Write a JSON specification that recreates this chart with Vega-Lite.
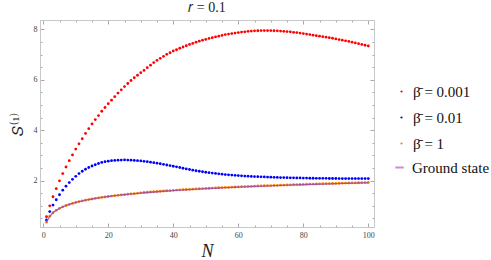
{
  "$schema": "https://vega.github.io/schema/vega-lite/v6.json",
  "width": 334,
  "height": 207,
  "autosize": "none",
  "padding": {"left": 40, "top": 20, "right": 117, "bottom": 33},
  "background": "white",
  "title": {"text": "𝑟 = 0.1", "font": "Liberation Serif", "fontSize": 14, "fontWeight": "normal", "color": "#222", "offset": 5},
  "config": {"view": {"stroke": "#c8c8c8"}},
  "data": {"values": [
    {"N":1,"a":0.57,"b":0.44,"c":0.35,"g":0.35},
    {"N":2,"a":1.00,"b":0.77,"c":0.586,"g":0.586},
    {"N":3,"a":1.36,"b":1.03,"c":0.724,"g":0.724},
    {"N":4,"a":1.68,"b":1.24,"c":0.821,"g":0.821},
    {"N":5,"a":1.99,"b":1.44,"c":0.897,"g":0.897},
    {"N":6,"a":2.28,"b":1.62,"c":0.959,"g":0.959},
    {"N":7,"a":2.54,"b":1.78,"c":1.012,"g":1.012},
    {"N":8,"a":2.79,"b":1.92,"c":1.057,"g":1.057},
    {"N":9,"a":3.02,"b":2.05,"c":1.097,"g":1.097},
    {"N":10,"a":3.25,"b":2.17,"c":1.133,"g":1.133},
    {"N":11,"a":3.46,"b":2.28,"c":1.165,"g":1.165},
    {"N":12,"a":3.66,"b":2.37,"c":1.195,"g":1.195},
    {"N":13,"a":3.87,"b":2.45,"c":1.222,"g":1.222},
    {"N":14,"a":4.06,"b":2.52,"c":1.247,"g":1.247},
    {"N":15,"a":4.25,"b":2.58,"c":1.271,"g":1.271},
    {"N":16,"a":4.42,"b":2.63,"c":1.293,"g":1.293},
    {"N":17,"a":4.58,"b":2.68,"c":1.313,"g":1.313},
    {"N":18,"a":4.75,"b":2.72,"c":1.333,"g":1.333},
    {"N":19,"a":4.90,"b":2.75,"c":1.351,"g":1.351},
    {"N":20,"a":5.05,"b":2.77,"c":1.369,"g":1.369},
    {"N":21,"a":5.19,"b":2.79,"c":1.385,"g":1.385},
    {"N":22,"a":5.33,"b":2.80,"c":1.401,"g":1.401},
    {"N":23,"a":5.47,"b":2.81,"c":1.416,"g":1.416},
    {"N":24,"a":5.60,"b":2.815,"c":1.431,"g":1.431},
    {"N":25,"a":5.73,"b":2.82,"c":1.444,"g":1.444},
    {"N":26,"a":5.85,"b":2.815,"c":1.458,"g":1.458},
    {"N":27,"a":5.97,"b":2.81,"c":1.471,"g":1.471},
    {"N":28,"a":6.08,"b":2.80,"c":1.483,"g":1.483},
    {"N":29,"a":6.18,"b":2.79,"c":1.495,"g":1.495},
    {"N":30,"a":6.28,"b":2.78,"c":1.516,"g":1.506},
    {"N":31,"a":6.37,"b":2.765,"c":1.528,"g":1.518},
    {"N":32,"a":6.48,"b":2.75,"c":1.538,"g":1.528},
    {"N":33,"a":6.58,"b":2.73,"c":1.549,"g":1.539},
    {"N":34,"a":6.68,"b":2.71,"c":1.559,"g":1.549},
    {"N":35,"a":6.77,"b":2.69,"c":1.569,"g":1.559},
    {"N":36,"a":6.85,"b":2.67,"c":1.578,"g":1.568},
    {"N":37,"a":6.93,"b":2.645,"c":1.588,"g":1.578},
    {"N":38,"a":7.01,"b":2.62,"c":1.597,"g":1.587},
    {"N":39,"a":7.07,"b":2.595,"c":1.606,"g":1.596},
    {"N":40,"a":7.14,"b":2.57,"c":1.614,"g":1.604},
    {"N":41,"a":7.19,"b":2.545,"c":1.623,"g":1.613},
    {"N":42,"a":7.25,"b":2.52,"c":1.631,"g":1.621},
    {"N":43,"a":7.30,"b":2.49,"c":1.639,"g":1.629},
    {"N":44,"a":7.35,"b":2.465,"c":1.647,"g":1.637},
    {"N":45,"a":7.40,"b":2.44,"c":1.654,"g":1.644},
    {"N":46,"a":7.44,"b":2.415,"c":1.662,"g":1.652},
    {"N":47,"a":7.49,"b":2.39,"c":1.669,"g":1.659},
    {"N":48,"a":7.53,"b":2.37,"c":1.676,"g":1.666},
    {"N":49,"a":7.57,"b":2.35,"c":1.683,"g":1.673},
    {"N":50,"a":7.60,"b":2.33,"c":1.690,"g":1.680},
    {"N":51,"a":7.64,"b":2.315,"c":1.697,"g":1.687},
    {"N":52,"a":7.67,"b":2.30,"c":1.703,"g":1.693},
    {"N":53,"a":7.70,"b":2.285,"c":1.710,"g":1.700},
    {"N":54,"a":7.73,"b":2.27,"c":1.716,"g":1.706},
    {"N":55,"a":7.76,"b":2.255,"c":1.722,"g":1.712},
    {"N":56,"a":7.79,"b":2.24,"c":1.729,"g":1.719},
    {"N":57,"a":7.81,"b":2.23,"c":1.735,"g":1.725},
    {"N":58,"a":7.83,"b":2.22,"c":1.740,"g":1.730},
    {"N":59,"a":7.85,"b":2.21,"c":1.746,"g":1.736},
    {"N":60,"a":7.87,"b":2.20,"c":1.752,"g":1.742},
    {"N":61,"a":7.89,"b":2.19,"c":1.758,"g":1.748},
    {"N":62,"a":7.90,"b":2.18,"c":1.763,"g":1.753},
    {"N":63,"a":7.92,"b":2.175,"c":1.769,"g":1.759},
    {"N":64,"a":7.93,"b":2.165,"c":1.774,"g":1.764},
    {"N":65,"a":7.94,"b":2.16,"c":1.779,"g":1.769},
    {"N":66,"a":7.945,"b":2.155,"c":1.785,"g":1.775},
    {"N":67,"a":7.95,"b":2.15,"c":1.790,"g":1.780},
    {"N":68,"a":7.95,"b":2.145,"c":1.795,"g":1.785},
    {"N":69,"a":7.95,"b":2.14,"c":1.800,"g":1.790},
    {"N":70,"a":7.95,"b":2.135,"c":1.804,"g":1.794},
    {"N":71,"a":7.945,"b":2.13,"c":1.809,"g":1.799},
    {"N":72,"a":7.94,"b":2.125,"c":1.814,"g":1.804},
    {"N":73,"a":7.93,"b":2.12,"c":1.819,"g":1.809},
    {"N":74,"a":7.92,"b":2.12,"c":1.823,"g":1.813},
    {"N":75,"a":7.91,"b":2.115,"c":1.828,"g":1.818},
    {"N":76,"a":7.90,"b":2.11,"c":1.832,"g":1.822},
    {"N":77,"a":7.88,"b":2.11,"c":1.837,"g":1.827},
    {"N":78,"a":7.87,"b":2.105,"c":1.841,"g":1.831},
    {"N":79,"a":7.85,"b":2.105,"c":1.845,"g":1.835},
    {"N":80,"a":7.83,"b":2.10,"c":1.850,"g":1.840},
    {"N":81,"a":7.81,"b":2.10,"c":1.854,"g":1.844},
    {"N":82,"a":7.79,"b":2.095,"c":1.858,"g":1.848},
    {"N":83,"a":7.77,"b":2.095,"c":1.862,"g":1.852},
    {"N":84,"a":7.75,"b":2.09,"c":1.866,"g":1.856},
    {"N":85,"a":7.73,"b":2.09,"c":1.871,"g":1.861},
    {"N":86,"a":7.71,"b":2.09,"c":1.874,"g":1.864},
    {"N":87,"a":7.69,"b":2.09,"c":1.878,"g":1.868},
    {"N":88,"a":7.67,"b":2.085,"c":1.882,"g":1.872},
    {"N":89,"a":7.645,"b":2.085,"c":1.886,"g":1.876},
    {"N":90,"a":7.62,"b":2.085,"c":1.890,"g":1.880},
    {"N":91,"a":7.595,"b":2.08,"c":1.894,"g":1.884},
    {"N":92,"a":7.57,"b":2.08,"c":1.897,"g":1.887},
    {"N":93,"a":7.545,"b":2.08,"c":1.901,"g":1.891},
    {"N":94,"a":7.52,"b":2.08,"c":1.905,"g":1.895},
    {"N":95,"a":7.49,"b":2.08,"c":1.908,"g":1.898},
    {"N":96,"a":7.46,"b":2.08,"c":1.912,"g":1.902},
    {"N":97,"a":7.43,"b":2.08,"c":1.916,"g":1.906},
    {"N":98,"a":7.40,"b":2.08,"c":1.919,"g":1.909},
    {"N":99,"a":7.37,"b":2.08,"c":1.922,"g":1.912},
    {"N":100,"a":7.34,"b":2.08,"c":1.926,"g":1.916}
  ]},
  "resolve": {"axis": {"x": "independent", "y": "independent"}},
  "layer": [
    {
      "transform": [{"fold": ["a", "b", "c"], "as": ["series", "v"]}],
      "mark": {"type": "point", "filled": true, "size": 8, "opacity": 1},
      "encoding": {
        "x": {"field": "N", "type": "quantitative",
          "scale": {"domain": [-1, 101.75], "nice": false, "zero": false},
          "axis": {"orient": "bottom", "title": "N", "titleFont": "Liberation Serif", "titleFontStyle": "italic", "titleFontWeight": "normal", "titleFontSize": 18, "titleColor": "#222", "titlePadding": 3,
            "values": [0,5,10,15,20,25,30,35,40,45,50,55,60,65,70,75,80,85,90,95,100],
            "labelExpr": "datum.value % 20 === 0 ? datum.label : ''",
            "labelFont": "Liberation Serif", "labelFontSize": 8, "labelColor": "#444", "labelPadding": 8, "labelFlush": false,
            "domainColor": "#c8c8c8", "tickColor": "#a8a8a8",
            "tickSize": {"condition": {"test": "datum.value % 20 === 0", "value": -4}, "value": -2},
            "grid": false}},
        "y": {"field": "v", "type": "quantitative",
          "scale": {"domain": [0.16, 8.37], "nice": false, "zero": false},
          "axis": {"orient": "left", "title": "𝑆⁽¹⁾", "titleFont": "Liberation Serif", "titleFontWeight": "normal", "titleFontSize": 15, "titleColor": "#222", "titlePadding": 8,
            "values": [0.5,1,1.5,2,2.5,3,3.5,4,4.5,5,5.5,6,6.5,7,7.5,8],
            "labelExpr": "datum.value % 2 === 0 ? ('' + datum.value) : ''",
            "labelFont": "Liberation Serif", "labelFontSize": 8, "labelColor": "#444", "labelPadding": 7,
            "domainColor": "#c8c8c8", "tickColor": "#a8a8a8",
            "tickSize": {"condition": {"test": "datum.value % 2 === 0", "value": -4}, "value": -2},
            "grid": false}},
        "color": {"field": "series", "type": "nominal",
          "scale": {"domain": ["a", "b", "c"], "range": ["#ff0000", "#0000ff", "#ff8000"]},
          "legend": {"orient": "none", "legendX": 354, "legendY": 64, "title": null, "padding": 0,
            "labelExpr": "datum.label === 'a' ? 'β̄ = 0.001' : datum.label === 'b' ? 'β̄ = 0.01' : 'β̄ = 1'",
            "labelFont": "Liberation Serif", "labelFontSize": 15, "labelColor": "#111", "labelOffset": 4, "rowPadding": 10, "symbolSize": 5}}
      }
    },
    {
      "mark": {"type": "line", "strokeWidth": 1.3, "opacity": 0.9},
      "encoding": {
        "x": {"field": "N", "type": "quantitative",
          "axis": {"orient": "top", "title": null, "labels": false,
            "values": [0,5,10,15,20,25,30,35,40,45,50,55,60,65,70,75,80,85,90,95,100],
            "domainColor": "#c8c8c8", "tickColor": "#a8a8a8",
            "tickSize": {"condition": {"test": "datum.value % 20 === 0", "value": -4}, "value": -2},
            "grid": false}},
        "y": {"field": "g", "type": "quantitative",
          "axis": {"orient": "right", "title": null, "labels": false,
            "values": [0.5,1,1.5,2,2.5,3,3.5,4,4.5,5,5.5,6,6.5,7,7.5,8],
            "domainColor": "#c8c8c8", "tickColor": "#a8a8a8",
            "tickSize": {"condition": {"test": "datum.value % 2 === 0", "value": -4}, "value": -2},
            "grid": false}},
        "stroke": {"datum": "Ground state",
          "scale": {"domain": ["Ground state"], "range": ["#a04aa0"]},
          "legend": {"orient": "none", "legendX": 352, "legendY": 140, "title": null, "padding": 0,
            "symbolType": "stroke", "symbolSize": 70, "symbolStrokeWidth": 2, "symbolOpacity": 0.6,
            "labelFont": "Liberation Serif", "labelFontSize": 15, "labelColor": "#111", "labelOffset": 5}}
      }
    }
  ]
}
